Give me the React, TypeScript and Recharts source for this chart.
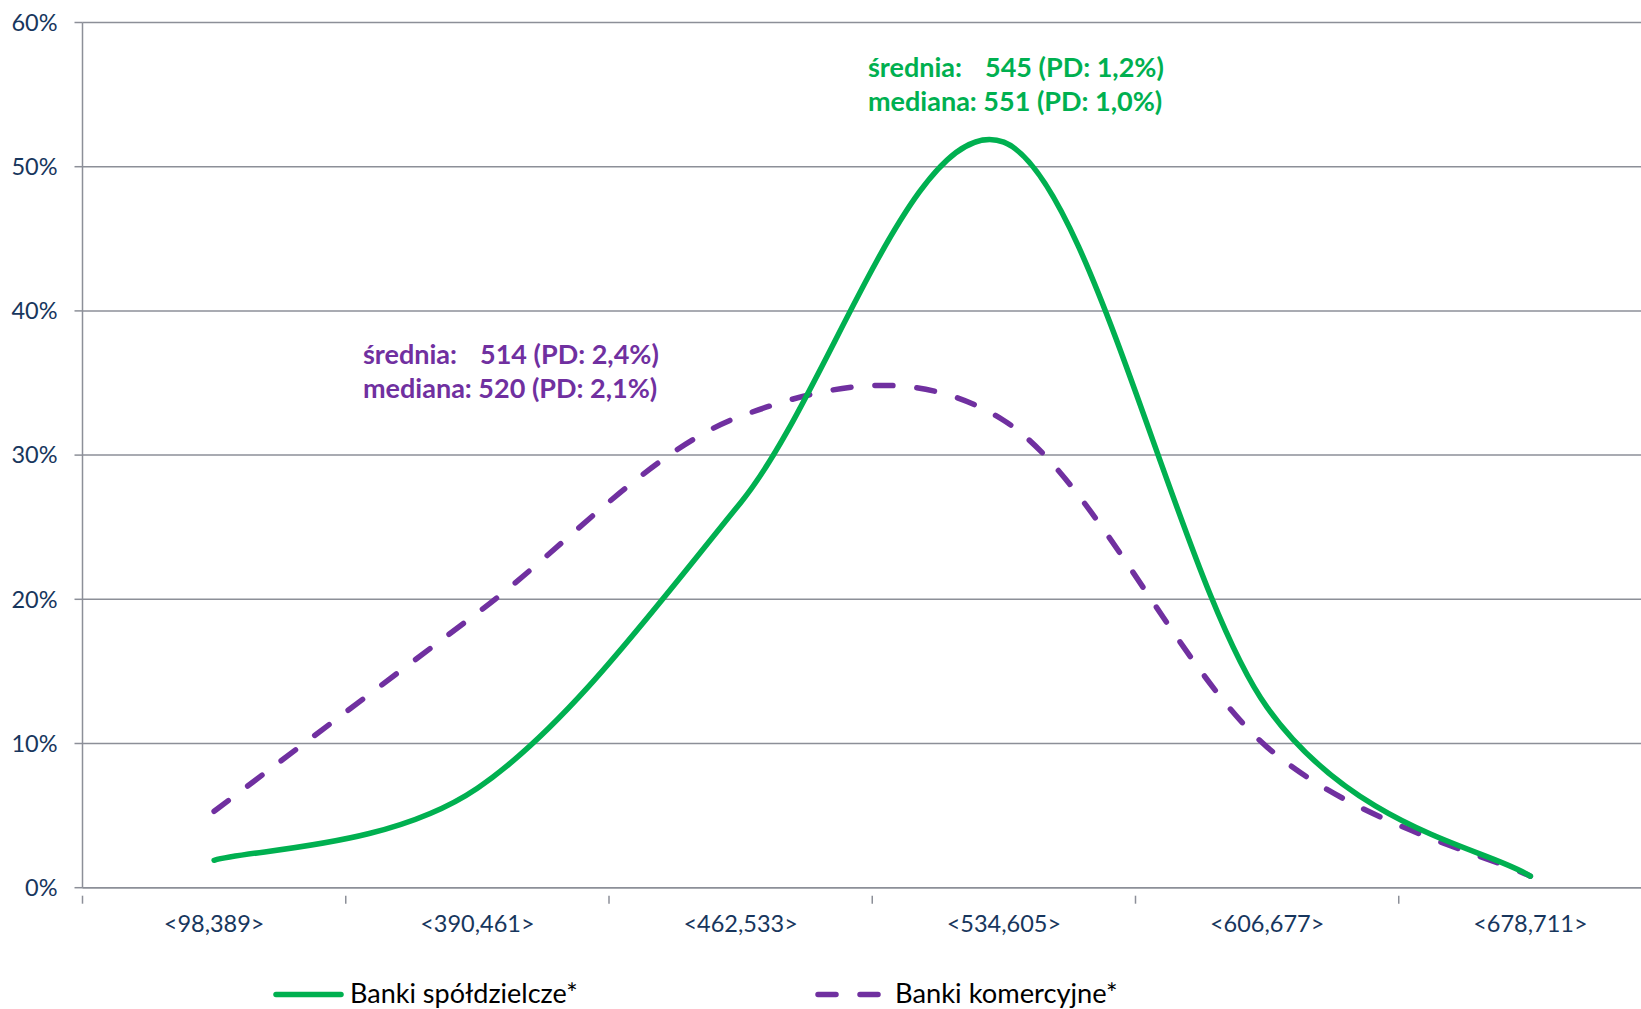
import React from 'react';
import { LineChart, Line, XAxis, YAxis, CartesianGrid, Legend, Customized } from 'recharts';

const categories = ['<98,389>', '<390,461>', '<462,533>', '<534,605>', '<606,677>', '<678,711>'];
const spoldzielcze = [1.9, 6.9, 26.7, 51.7, 12.5, 0.8];
const komercyjne = [5.3, 19.05, 32.7, 32.4, 9.75, 0.8];
const yTicks = [0, 10, 20, 30, 40, 50, 60];

const data = categories.map((c, i) => ({ cat: c, coop: spoldzielcze[i], comm: komercyjne[i] }));

const GREEN = '#00B050';
const PURPLE = '#7030A0';
const NAVY = '#17365D';
const GRID = '#8C8F98';
const FONT = 'Lato, "Open Sans", sans-serif';

// Excel-like smoothed line (uniform Catmull-Rom as cubic Bezier)
const excelSmooth = (context: any) => {
  let pts: [number, number][] = [];
  return {
    areaStart() {},
    areaEnd() {},
    lineStart() {
      pts = [];
    },
    point(x: number, y: number) {
      pts.push([+x, +y]);
    },
    lineEnd() {
      const n = pts.length;
      if (!n) return;
      context.moveTo(pts[0][0], pts[0][1]);
      for (let i = 0; i < n - 1; i++) {
        const p0 = pts[Math.max(i - 1, 0)];
        const p1 = pts[i];
        const p2 = pts[i + 1];
        const p3 = pts[Math.min(i + 2, n - 1)];
        context.bezierCurveTo(
          p1[0] + (p2[0] - p0[0]) / 6,
          p1[1] + (p2[1] - p0[1]) / 6,
          p2[0] - (p3[0] - p1[0]) / 6,
          p2[1] - (p3[1] - p1[1]) / 6,
          p2[0],
          p2[1]
        );
      }
    },
  };
};

const XTick = (props: any) => {
  const { x, y, payload } = props;
  const off = payload && payload.offset ? payload.offset : 0;
  return (
    <g>
      <line x1={x - off} x2={x - off} y1={y} y2={y + 8} stroke={GRID} strokeWidth={1.5} />
      <text x={x} y={y + 36} textAnchor="middle" fill={NAVY} fontSize={23.5} fontFamily={FONT}>
        {payload.value}
      </text>
    </g>
  );
};

const LegendContent = () => (
  <div style={{ position: 'relative', height: 30, width: 1641 }}>
    <svg width={1641} height={30} style={{ position: 'absolute', left: 0, top: 0, overflow: 'visible' }}>
      <line x1={276} x2={341} y1={15.5} y2={15.5} stroke={GREEN} strokeWidth={5.5} strokeLinecap="round" />
      <line x1={818} x2={880} y1={15.5} y2={15.5} stroke={PURPLE} strokeWidth={5.5} strokeLinecap="round" strokeDasharray="18 24" />
      <text x={350} y={24} fill="#000" fontSize={27} fontFamily={FONT}>Banki spółdzielcze*</text>
      <text x={895} y={24} fill="#000" fontSize={27.3} fontFamily={FONT}>Banki komercyjne*</text>
    </svg>
  </div>
);

const Annotations = () => (
  <g fontFamily={FONT} fontWeight={700} fontSize={27}>
    <text x={868} y={77} fill={GREEN}>
      <tspan x={868}>średnia:</tspan>
      <tspan x={985}>545 (PD: 1,2%)</tspan>
    </text>
    <text x={868} y={111} fill={GREEN}>mediana: 551 (PD: 1,0%)</text>
    <text x={363} y={364} fill={PURPLE}>
      <tspan x={363}>średnia:</tspan>
      <tspan x={480}>514 (PD: 2,4%)</tspan>
    </text>
    <text x={363} y={398} fill={PURPLE}>mediana: 520 (PD: 2,1%)</text>
  </g>
);

export default function App() {
  return (
    <div style={{ position: 'fixed', left: 0, top: 0, width: 1641, height: 1009, overflow: 'hidden', background: '#fff' }}>
      <LineChart width={1672} height={1009} data={data} margin={{ top: 22.5, right: 10, bottom: 0, left: 0 }}>
        <CartesianGrid vertical={false} stroke={GRID} strokeWidth={1.5} />
        <XAxis
          dataKey="cat"
          scale="band"
          height={91.3}
          tickLine={false}
          axisLine={{ stroke: GRID, strokeWidth: 1.5 }}
          tick={<XTick />}
          interval={0}
        />
        <YAxis
          width={82.5}
          domain={[0, 60]}
          ticks={yTicks}
          tickFormatter={(v: number) => `${v}%`}
          tickSize={8}
          tickMargin={17}
          axisLine={{ stroke: GRID, strokeWidth: 1.5 }}
          tickLine={{ stroke: GRID, strokeWidth: 1.5 }}
          tick={{ fill: NAVY, fontSize: 23.5, fontFamily: FONT }}
        />
        <Legend verticalAlign="bottom" height={30} content={<LegendContent />} wrapperStyle={{ left: 0, bottom: 0 }} />
        <Line
          type={excelSmooth as any}
          dataKey="comm"
          stroke={PURPLE}
          strokeWidth={5.5}
          strokeDasharray="18 24"
          strokeLinecap="round"
          dot={false}
          activeDot={false}
          isAnimationActive={false}
        />
        <Line
          type={excelSmooth as any}
          dataKey="coop"
          stroke={GREEN}
          strokeWidth={5.5}
          strokeLinecap="round"
          dot={false}
          activeDot={false}
          isAnimationActive={false}
        />
        <Customized component={Annotations} />
      </LineChart>
    </div>
  );
}
